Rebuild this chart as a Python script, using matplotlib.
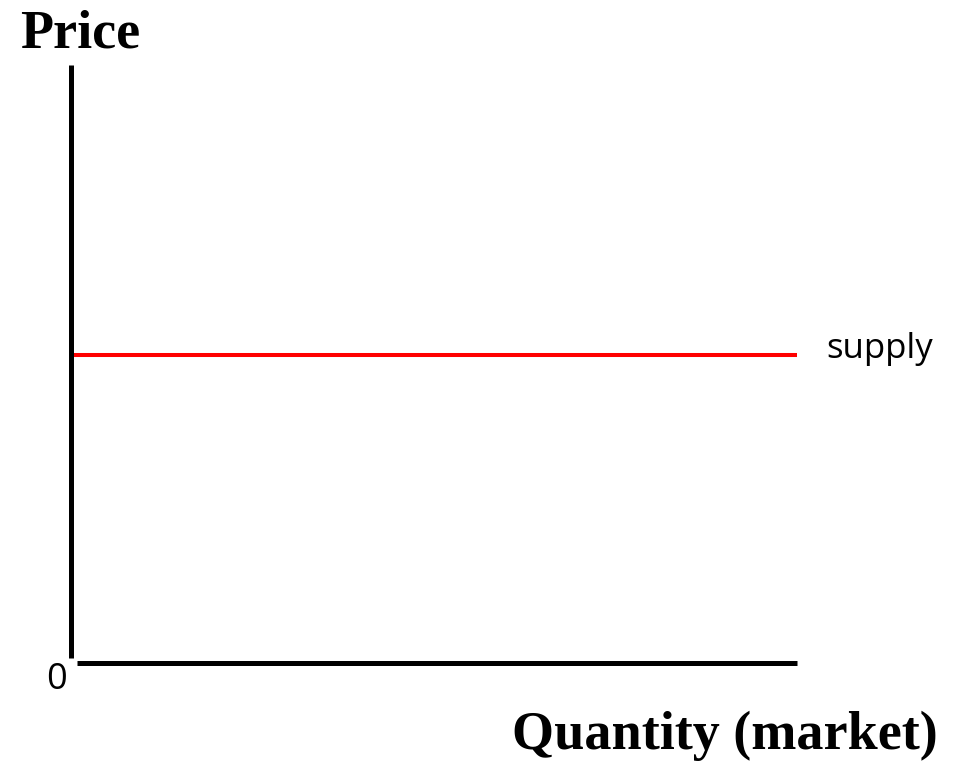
import matplotlib.pyplot as plt

# data for the sketch
quantity = [0.0, 10.0]
supply_price = [5.15, 5.15]
x_label = 'Quantity (market)'
y_label = 'Price'
curve_label = 'supply'
origin_label = '0'

W, H = 962, 763
fig = plt.figure(figsize=(W / 100, H / 100), dpi=100)

# axes box in pixels: left 71, right 797, top 65, bottom 663
ax = fig.add_axes([71 / W, (H - 663) / H, (797 - 71) / W, (663 - 65) / H])
ax.set_xlim(0, 10)
ax.set_ylim(0, 10)

ax.plot(quantity, supply_price, color='#ff0000', lw=2.9, solid_capstyle='butt')

for side in ['top', 'right']:
    ax.spines[side].set_visible(False)
for side in ['left', 'bottom']:
    ax.spines[side].set_linewidth(3.6)
    ax.spines[side].set_capstyle('butt')
ax.spines['bottom'].set_bounds(0.083, 10)
ax.spines['left'].set_bounds(0.084, 10)
ax.set_xticks([])
ax.set_yticks([])

serif = ['Liberation Serif', 'DejaVu Serif']
sans = ['Open Sans', 'DejaVu Sans']

fig.text(20 / W, 1 - 47 / H, y_label, fontsize=39, fontweight='bold',
         family=serif, ha='left', va='baseline')
fig.text(938 / W, 1 - 749 / H, x_label, fontsize=39, fontweight='bold',
         family=serif, ha='right', va='baseline')
fig.text(826 / W, 1 - 358 / H, curve_label, fontsize=25, family=sans,
         ha='left', va='baseline')
fig.text(57 / W, 1 - 689 / H, origin_label, fontsize=26, family=sans,
         ha='center', va='baseline')

fig.savefig('out.png', dpi=100)
